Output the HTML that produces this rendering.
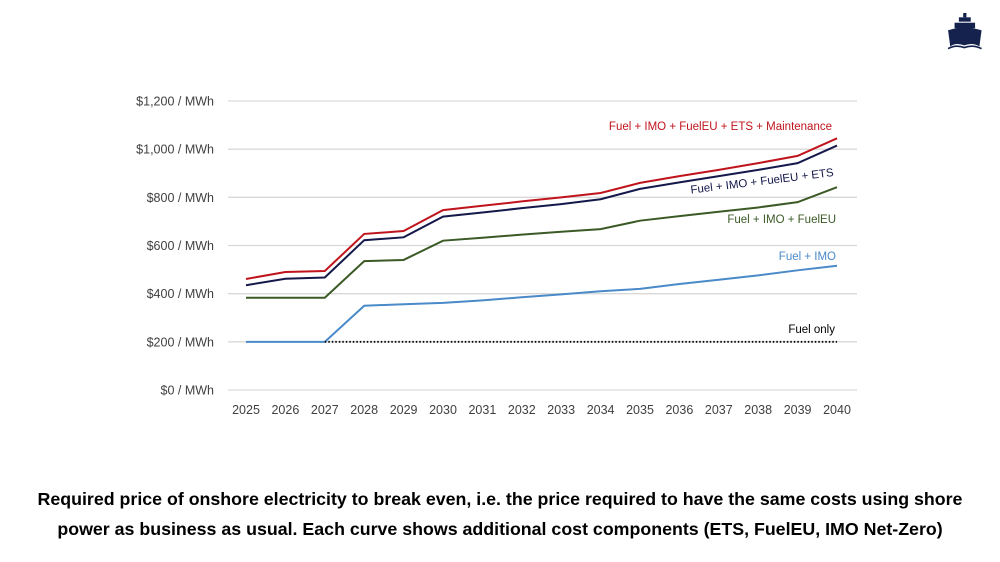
<!DOCTYPE html>
<html><head><meta charset="utf-8"><style>
body{margin:0;width:1000px;height:562px;background:#fff;overflow:hidden;font-family:"Liberation Sans",sans-serif}
#cap{position:absolute;left:0;top:484px;width:1000px;text-align:center;font-weight:bold;font-size:17.8px;line-height:30px;color:#000;white-space:nowrap}
</style></head><body>
<svg id="chart" width="1000" height="562" style="position:absolute;left:0;top:0">
<g id="grid"></g><g id="series"></g><g id="labels"></g>
<g fill="#14224d" transform="translate(947,13) scale(1.08)">
<rect x="15" y="0" width="3" height="4"/><rect x="11" y="4" width="11" height="4"/><rect x="7" y="9" width="19" height="5"/>
<path d="M1 16 L16 12 L32 16 L30 31 Q24 27 16 30 Q8 27 3 31 Z"/>
<path d="M1 33 Q8 29 16 32 Q24 29 32 33" stroke="#14224d" stroke-width="1.5" fill="none"/>
</g>
</svg>
<div id="cap">Required price of onshore electricity to break even, i.e. the price required to have the same costs using shore<br>power as business as usual. Each curve shows additional cost components (ETS, FuelEU, IMO Net-Zero)</div>
<script>
const years=[2025,2026,2027,2028,2029,2030,2031,2032,2033,2034,2035,2036,2037,2038,2039,2040];
const yTicks=[0,200,400,600,800,1000,1200];
const maint=[461,490,494,648,660,747,765,783,800,818,860,888,914,942,972,1045];
const ets=[435,462,467,622,634,720,737,755,772,792,835,862,888,914,942,1015];
const fueleu=[383,383,383,535,540,620,632,645,657,668,703,722,740,758,780,842];
const imo=[200,200,200,350,356,362,372,385,397,410,420,440,458,476,497,516];
const fuelOnly=[null,null,200,200,200,200,200,200,200,200,200,200,200,200,200,200];
const NS="http://www.w3.org/2000/svg";
const X=i=>246+i*(837-246)/(years.length-1);
const Y=v=>390-v*(289/1200);
function mk(t,a,p){const e=document.createElementNS(NS,t);for(const k in a)e.setAttribute(k,a[k]);p.appendChild(e);return e;}
const g=document.getElementById('grid'),s=document.getElementById('series'),L=document.getElementById('labels');
yTicks.forEach(v=>{
 const l=mk('line',{x1:228,x2:857,y1:Y(v),y2:Y(v),stroke:'#d9d9d9','stroke-width':1.3},g);
 
 
 const t=mk('text',{x:214,y:Y(v)+4.5,'text-anchor':'end','font-size':12.5,fill:'#404040'},L);
 t.textContent='$'+v.toLocaleString('en-US')+' / MWh';
 
 
});
years.forEach((y,i)=>{
 const t=mk('text',{x:X(i),y:414,'text-anchor':'middle','font-size':12.5,fill:'#404040'},L);
 t.textContent=y;
 
 
});
function line(arr,color,name,dash){
 let d='';arr.forEach((v,i)=>{if(v==null)return;d+=(d?'L':'M')+X(i)+' '+Y(v);});
 const p=mk('path',{d:d,fill:'none',stroke:color,'stroke-width':dash?1.8:2,'stroke-dasharray':dash||''},s);
 
 
}
line(imo,'#4a8ac8','line-fuel-imo');
line(fuelOnly,'#000','line-fuel-only','1.5 2');
line(fueleu,'#3b5a26','line-fuel-imo-fueleu');
line(ets,'#14184a','line-fuel-imo-fueleu-ets');
line(maint,'#c0141c','line-fuel-imo-fueleu-ets-maintenance');
function lab(txt,x,y,c,rot,name){
 const t=mk('text',{x:x,y:y,'text-anchor':'end','font-size':11.5,fill:c,transform:rot?`rotate(${rot} ${x} ${y})`:''},L);
 t.textContent=txt;
 
 
}
lab('Fuel + IMO + FuelEU + ETS + Maintenance',832,130,'#c0141c',0,'label-maintenance');
lab('Fuel + IMO + FuelEU +  ETS',834,176,'#14184a',-7,'label-ets');
lab('Fuel + IMO + FuelEU',836,223,'#3b5a26',0,'label-fueleu');
lab('Fuel + IMO',836,260,'#4a8ac8',0,'label-imo');
lab('Fuel only',835,333,'#000',0,'label-fuel-only');
</script>
</body></html>
